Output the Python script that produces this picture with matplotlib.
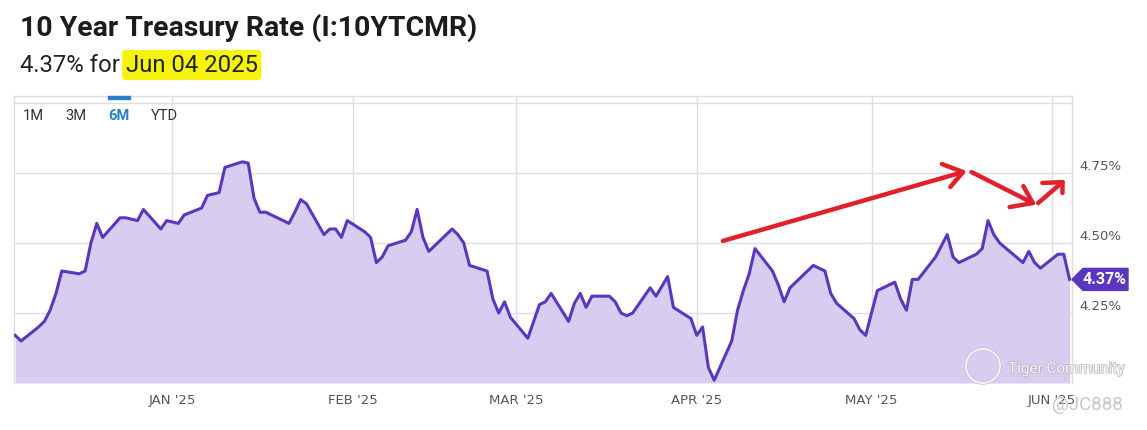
import matplotlib
matplotlib.use("Agg")
import matplotlib.pyplot as plt
import matplotlib.transforms as mtransforms
import matplotlib.patheffects as pe
from matplotlib.patches import Polygon, Circle, Rectangle
import pandas as pd

# 10 year treasury rate (%), trading days
dec_days = [5, 6, 9, 10, 11, 12, 13, 16, 17, 18, 19, 20, 23, 24, 26, 27, 30, 31]
dec_vals = [4.17, 4.15, 4.20, 4.22, 4.26, 4.32, 4.40, 4.39, 4.40, 4.50, 4.57, 4.52,
            4.59, 4.59, 4.58, 4.62, 4.55, 4.58]
jan_days = [2, 3, 6, 7, 8, 9, 10, 13, 14, 15, 16, 17, 21, 22, 23, 24, 27, 28, 29, 30, 31]
jan_vals = [4.57, 4.60, 4.625, 4.67, 4.675, 4.68, 4.77, 4.79, 4.785, 4.66, 4.61, 4.61,
            4.57, 4.61, 4.655, 4.64, 4.53, 4.55, 4.55, 4.52, 4.58]
feb_days = [3, 4, 5, 6, 7, 10, 11, 12, 13, 14, 18, 19, 20, 21, 24, 25, 26, 27, 28]
feb_vals = [4.54, 4.52, 4.43, 4.45, 4.49, 4.51, 4.54, 4.62, 4.52, 4.47, 4.55, 4.53,
            4.50, 4.42, 4.40, 4.30, 4.25, 4.29, 4.235]
mar_days = [3, 4, 5, 6, 7, 10, 11, 12, 13, 14, 17, 18, 19, 20, 21, 24, 25, 26, 27, 28, 31]
mar_vals = [4.16, 4.22, 4.28, 4.29, 4.32, 4.22, 4.285, 4.32, 4.27, 4.31, 4.31, 4.29,
            4.25, 4.24, 4.25, 4.34, 4.31, 4.345, 4.38, 4.27, 4.23]
apr_days = [1, 2, 3, 4, 7, 8, 9, 10, 11, 14, 15, 16, 17, 21, 22, 23, 24, 25, 28, 29, 30]
apr_vals = [4.17, 4.20, 4.055, 4.01, 4.15, 4.26, 4.33, 4.39, 4.48, 4.40, 4.35, 4.29,
            4.34, 4.42, 4.41, 4.40, 4.32, 4.285, 4.23, 4.19, 4.17]
may_days = [1, 2, 5, 6, 7, 8, 9, 12, 13, 14, 15, 16, 19, 20, 21, 22, 23, 27, 28, 29, 30]
may_vals = [4.25, 4.33, 4.36, 4.30, 4.26, 4.37, 4.37, 4.45, 4.49, 4.53, 4.45, 4.43,
            4.46, 4.48, 4.58, 4.53, 4.50, 4.43, 4.47, 4.43, 4.41]
jun_days = [2, 3, 4]
jun_vals = [4.46, 4.46, 4.37]

months = [("2024-12", dec_days, dec_vals), ("2025-01", jan_days, jan_vals),
          ("2025-02", feb_days, feb_vals), ("2025-03", mar_days, mar_vals),
          ("2025-04", apr_days, apr_vals), ("2025-05", may_days, may_vals),
          ("2025-06", jun_days, jun_vals)]

y_ticks = [4.25, 4.50, 4.75]
y_ticklabels = ["4.25%", "4.50%", "4.75%"]
month_ticks = ["2025-01-01", "2025-02-01", "2025-03-01", "2025-04-01", "2025-05-01", "2025-06-01"]
month_labels = ["JAN '25", "FEB '25", "MAR '25", "APR '25", "MAY '25", "JUN '25"]
ranges = ["1M", "3M", "6M", "YTD"]

title = "10 Year Treasury Rate (I:10YTCMR)"
last_value = "4.37%"
last_date = "Jun 04 2025"

# build the series
dates, rates = [], []
for ym, days, vals in months:
    for d, v in zip(days, vals):
        dates.append(pd.Timestamp(f"{ym}-{d:02d}"))
        rates.append(v)
df = pd.DataFrame({"date": dates, "rate": rates})

LINE = "#5b37bd"
FILL = "#d7cdf1"
GRID = "#dedde3"
TICK = "#555555"
W, H = 1147, 430

fig = plt.figure(figsize=(W / 100, H / 100), dpi=100)
ax = fig.add_axes([14 / W, 47 / H, 1058 / W, 287 / H])

ax.fill_between(df["date"], 4.0, df["rate"], color=FILL, lw=0, zorder=1)
ax.plot(df["date"], df["rate"], color=LINE, lw=2.2, zorder=3)

ax.set_xlim(pd.Timestamp("2024-12-04 19:00"), pd.Timestamp("2025-06-04 10:00"))
ax.set_ylim(4.0, 5.025)

ax.set_xticks(pd.to_datetime(month_ticks))
ax.set_xticklabels(month_labels)
ax.set_yticks(y_ticks + [5.0])
ax.set_yticklabels(y_ticklabels + [""])
ax.yaxis.tick_right()
ax.tick_params(axis="both", length=0, colors=TICK, labelsize=9.5)
ax.tick_params(axis="x", pad=8)
ax.tick_params(axis="y", pad=5)
for lab in ax.get_yticklabels():
    lab.set_transform(lab.get_transform() + mtransforms.ScaledTranslation(0, 8 / 100, fig.dpi_scale_trans))
ax.grid(True, color=GRID, lw=1, zorder=0)
ax.set_axisbelow(True)
for side in ["left", "right", "top"]:
    ax.spines[side].set_color(GRID)
    ax.spines[side].set_linewidth(1)
ax.spines["bottom"].set_visible(False)

# range buttons
for i, r in enumerate(ranges):
    active = r == "6M"
    fig.text((23 + i * 42.5) / W, 1 - 116 / H, r, fontsize=10.5,
             color="#2a7ccf" if active else "#333333", fontweight="bold" if active else "normal",
             va="center", ha="left", family="Roboto")
fig.add_artist(Rectangle((108 / W, 1 - 99 / H), 22 / W, 3 / H,
                         transform=fig.transFigure, color="#2a7ccf"))

# last value badge
base = mtransforms.blended_transform_factory(ax.transAxes, ax.transData)
anchor = mtransforms.ScaledTranslation(1.0, rates[-1], base)
badge = Polygon([(0, 0), (11, 11), (56, 11), (56, -11), (11, -11)], closed=True,
                transform=mtransforms.Affine2D() + anchor, color="#5b35c0",
                clip_on=False, zorder=5)
fig.add_artist(badge)
fig.add_artist(plt.Text(0, 0, last_value, transform=mtransforms.Affine2D().translate(33, 0) + anchor,
                        color="white", fontsize=11.5, fontweight="bold", ha="center", va="center",
                        family="Roboto", zorder=6))

# hand drawn red arrows (axes fraction)
arrows = [((0.670, 0.495), (0.897, 0.735), (0.877, 0.763), (0.885, 0.683)),
          ((0.905, 0.735), (0.963, 0.627), (0.941, 0.613), (0.954, 0.686)),
          ((0.968, 0.627), (0.991, 0.700), (0.972, 0.697), (0.991, 0.662))]
for start, tip, b1, b2 in arrows:
    ax.plot([start[0], tip[0]], [start[1], tip[1]], transform=ax.transAxes,
            color="#e2202a", lw=3.2, solid_capstyle="round", clip_on=False, zorder=7)
    ax.plot([b1[0], tip[0], b2[0]], [b1[1], tip[1], b2[1]], transform=ax.transAxes,
            color="#e2202a", lw=3.2, solid_capstyle="round", solid_joinstyle="round",
            clip_on=False, zorder=7)

# titles
fig.text(20 / W, 1 - 28 / H, title, fontsize=20.4, fontweight="bold",
         color="#1c1c1c", va="center", ha="left", family="Roboto")
t1 = fig.text(20 / W, 1 - 65 / H, f"{last_value} for ", fontsize=17.2,
              color="#222222", va="center", ha="left", family="Roboto")
ax.annotate(last_date, xy=(1, 0), xycoords=t1, xytext=(0, 0),
            textcoords="offset points", va="bottom", ha="left", annotation_clip=False,
            fontsize=17.2, color="#222222", family="Roboto",
            bbox=dict(boxstyle="round,pad=0.15", fc="#f6f40c", ec="none"))

# watermarks
fig.add_artist(Circle((983, H - 366), 17, transform=mtransforms.IdentityTransform(),
                      fill=False, ec="#f2f0f6", lw=1.5, zorder=8,
                      path_effects=[pe.withStroke(linewidth=2.5, foreground="#c6c2d0")]))
fig.text(1008 / W, 1 - 369 / H, "Tiger Community", fontsize=11, color="#f4f2f8",
         va="center", ha="left", family="Roboto", zorder=8,
         path_effects=[pe.withStroke(linewidth=1, foreground="#b9b6c4")])
fig.text(1052 / W, 1 - 405 / H, "@JC888", fontsize=13.5, color="#c8c8c8",
         va="center", ha="left", family="Roboto", zorder=8)

fig.savefig("out.png", dpi=100)
